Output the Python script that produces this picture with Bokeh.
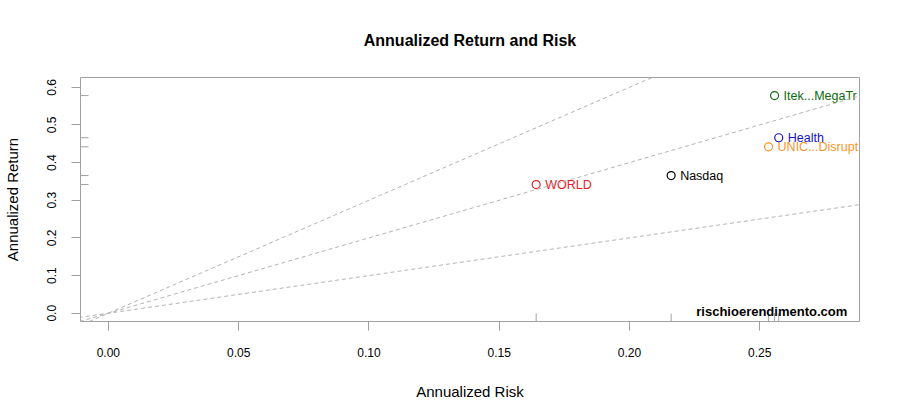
import math
from bokeh.plotting import figure
from bokeh.models import ColumnDataSource, FixedTicker, Slope, Label, Range1d
from bokeh.core.properties import value
from bokeh.embed import file_html
from bokeh.resources import INLINE

# data
names = ["WORLD", "Nasdaq", "Itek...MegaTr", "Health", "UNIC...Disrupt"]
risk = [0.1642, 0.2160, 0.2557, 0.2573, 0.2534]
ret = [0.3417, 0.3656, 0.5780, 0.4660, 0.4420]
colors = ["#e3202a", "#000000", "#0d6a0d", "#1414c8", "#f5962a"]

# reference lines through the origin (return / risk = 1, 2, 3)
slopes = [1, 2, 3]

x_ticks = [0.0, 0.05, 0.10, 0.15, 0.20, 0.25]
y_ticks = [0.0, 0.1, 0.2, 0.3, 0.4, 0.5, 0.6]
x_lo, x_hi = -0.0107, 0.2883
y_lo, y_hi = -0.022, 0.626

FONT = "Liberation Sans"
GREY = "#a0a0a0"

src = ColumnDataSource(dict(x=risk, y=ret, name=names, color=colors))

p = figure(width=884, height=404, output_backend="svg", toolbar_location=None,
           title="Annualized Return and Risk",
           x_range=Range1d(x_lo, x_hi), y_range=Range1d(y_lo, y_hi),
           min_border_left=78, min_border_right=25, min_border_top=77, min_border_bottom=83)

p.background_fill_color = "white"
p.border_fill_color = "white"
p.outline_line_color = GREY
p.outline_line_width = 1
p.xgrid.visible = False
p.ygrid.visible = False

p.title.align = "center"
p.title.text_font = FONT
p.title.text_font_size = "16px"
p.title.text_font_style = "bold"
p.title.text_color = "black"
p.title.standoff = 58

for ax in (p.xaxis[0], p.yaxis[0]):
    ax.axis_line_color = None
    ax.major_tick_line_color = GREY
    ax.major_tick_out = 9
    ax.major_tick_in = 0
    ax.minor_tick_line_color = None
    ax.major_label_text_font = FONT
    ax.major_label_text_font_size = "12px"
    ax.major_label_text_color = "black"
    ax.axis_label_text_font = FONT
    ax.axis_label_text_font_size = "15px"
    ax.axis_label_text_font_style = "normal"
    ax.axis_label_text_color = "black"

p.xaxis.axis_label = "Annualized Risk"
p.xaxis.ticker = FixedTicker(ticks=x_ticks)
p.xaxis.major_label_overrides = {t: "%.2f" % t for t in x_ticks}
p.xaxis.major_label_standoff = 17
p.xaxis.axis_label_standoff = 23

p.yaxis.axis_label = "Annualized Return"
p.yaxis.ticker = FixedTicker(ticks=y_ticks)
p.yaxis.major_label_overrides = {t: "%.1f" % t for t in y_ticks}
p.yaxis.major_label_orientation = "vertical"
p.yaxis.major_label_standoff = 15
p.yaxis.axis_label_standoff = 24

for s in slopes:
    p.add_layout(Slope(gradient=s, y_intercept=0, line_color="#b4b4b4",
                       line_dash="4 3", line_width=1))

# rug marks inside the frame
p.scatter(x=risk, y=[y_lo] * len(risk), marker="dash", size=16, angle=math.pi / 2,
          line_color=GREY, line_width=1)
p.scatter(x=[x_lo] * len(ret), y=ret, marker="dash", size=16,
          line_color=GREY, line_width=1)

p.scatter("x", "y", source=src, marker="circle", size=8, fill_color=None,
          line_color="color", line_width=1.2)
p.text("x", "y", text="name", source=src, x_offset=9, text_baseline="middle",
       text_color="color", text_font=value(FONT), text_font_size="12.5px")

p.add_layout(Label(x=0.2836, y=0.005, text="rischioerendimento.com", text_align="right",
                   text_baseline="middle", text_font=FONT, text_font_size="13px",
                   text_font_style="bold", text_color="black"))

open("out.html", "w").write(file_html(p, INLINE))
